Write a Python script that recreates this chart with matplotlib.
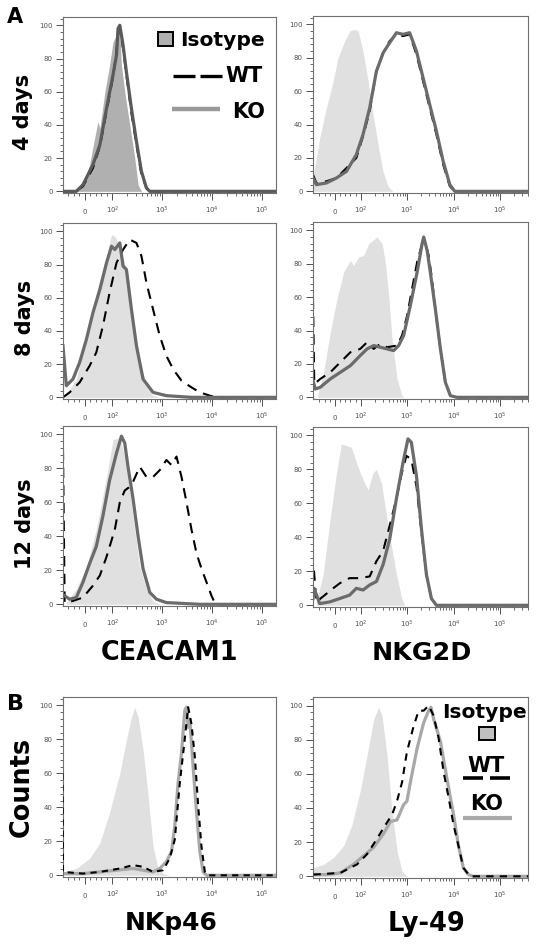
import matplotlib
matplotlib.use("Agg")
import matplotlib.pyplot as plt
from matplotlib.ticker import FixedLocator, FixedFormatter, MultipleLocator
from matplotlib.lines import Line2D
from matplotlib.patches import Rectangle

plt.rcParams['font.family'] = ['DejaVu Sans']

# ---------------- data (fluorescence intensity, % of max) ----------------
# A, 4 days, CEACAM1
cea4_iso_x = [-78, -30, -6, 18, 36, 48, 55, 73, 90, 103, 121, 141, 152, 177, 223, 281, 328, 383]
cea4_iso_y = [0, 0, 4, 16, 32, 42, 38, 60, 76, 90, 94, 96, 76, 60, 40, 20, 4, 0]
cea4_wt_x = [-78, -30, -6, 30, 55, 79, 103, 121, 130, 141, 164, 191, 241, 304, 383, 482, 562, 1.9e5]
cea4_wt_y = [0, 0, 3, 14, 27, 48, 69, 84, 96, 97, 86, 70, 47, 28, 10, 2, 0, 0]
cea4_ko_x = [-78, -30, -6, 30, 55, 79, 103, 121, 130, 141, 164, 191, 241, 304, 383, 482, 562, 1.9e5]
cea4_ko_y = [0, 0, 4, 16, 28, 50, 70, 82, 98, 100, 88, 72, 50, 30, 12, 2, 0, 0]

# A, 4 days, NKG2D
nkg4_iso_x = [-85, -59, -33, -7, 12, 38, 57, 77, 90, 112, 144, 184, 236, 302, 387, 497]
nkg4_iso_y = [8, 32, 50, 66, 80, 90, 96, 97, 96, 84, 66, 46, 28, 12, 3, 0]
nkg4_wt_x = [-85, -72, -33, 6, 45, 83, 112, 156, 218, 305, 420, 588, 813, 1130, 1585, 2200, 3060, 4270, 5960, 8300, 10600, 4e5]
nkg4_wt_y = [10, 5, 6, 8, 14, 20, 33, 48, 72, 83, 90, 94, 93, 94, 82, 66, 50, 34, 16, 3, 0, 0]
nkg4_ko_x = [-85, -72, -33, 6, 45, 83, 112, 156, 218, 305, 420, 588, 813, 1130, 1585, 2200, 3060, 4270, 5960, 8300, 10600, 4e5]
nkg4_ko_y = [8, 4, 5, 8, 12, 22, 34, 50, 72, 83, 89, 95, 94, 95, 84, 68, 52, 36, 18, 4, 0, 0]

# A, 8 days, CEACAM1
cea8_iso_x = [-72, -30, 6.5, 42, 79, 97, 112, 130, 164, 206, 260, 354, 482, 654, 891]
cea8_iso_y = [0, 11, 35, 63, 85, 98, 97, 93, 83, 75, 49, 23, 7, 1, 0]
cea8_wt_x = [-78, -54, -18, 18, 42, 66, 90, 121, 164, 223, 304, 383, 482, 654, 891, 1210, 1650, 2430, 3850, 5660, 9000, 12200, 1.9e5]
cea8_wt_y = [0, 3, 9, 19, 27, 43, 63, 81, 89, 95, 93, 85, 69, 53, 37, 25, 17, 10, 6, 3, 1, 0, 0]
cea8_ko_x = [-78, -66, -42, -18, 6.5, 30, 55, 79, 97, 112, 141, 164, 191, 241, 304, 412, 654, 1210, 3850, 1.9e5]
cea8_ko_y = [31, 7, 11, 21, 35, 51, 65, 81, 91, 89, 93, 79, 77, 53, 31, 11, 3, 1, 0, 0]

# A, 8 days, NKG2D
nkg8_iso_x = [-69, -44, -18, 8, 34, 60, 72, 92, 116, 148, 224, 290, 345, 406, 473, 604, 775, 840]
nkg8_iso_y = [0, 15, 39, 59, 75, 82, 79, 84, 85, 92, 96, 92, 79, 59, 35, 11, 1, 0]
nkg8_wt_x = [-85, -80, -57, -18, 21, 60, 98, 137, 190, 264, 368, 604, 775, 1000, 1275, 1640, 2100, 2470, 2900, 3420, 4040, 5200, 6650, 8510, 11900, 4e5]
nkg8_wt_y = [59, 8, 11, 15, 21, 27, 29, 33, 29, 32, 30, 31, 37, 49, 65, 81, 92, 92, 85, 71, 53, 29, 9, 1, 0, 0]
nkg8_ko_x = [-85, -76, -57, -18, 21, 60, 98, 137, 190, 264, 368, 512, 655, 840, 1170, 1640, 2100, 2270, 2690, 3150, 4040, 5200, 6650, 8510, 11900, 4e5]
nkg8_ko_y = [10, 5, 6, 11, 15, 19, 25, 29, 31, 30, 29, 28, 31, 37, 55, 75, 92, 96, 88, 75, 53, 29, 9, 1, 0, 0]

# A, 12 days, CEACAM1
cea12_iso_x = [-66, -30, 6.5, 42, 79, 103, 141, 177, 223, 281, 354, 482, 654, 891]
cea12_iso_y = [1, 9, 22, 44, 75, 97, 98, 87, 67, 44, 22, 9, 2, 0]
cea12_wt_x = [-78, -72, -42, -6, 30, 55, 79, 112, 141, 177, 241, 354, 482, 654, 891, 1210, 1530, 1930, 2430, 3060, 3850, 4860, 6100, 7700, 9700, 11200, 14100, 1.9e5]
cea12_wt_y = [91, 1, 2, 4, 11, 17, 28, 44, 60, 67, 70, 81, 75, 75, 79, 85, 82, 87, 75, 60, 44, 30, 21, 13, 5, 1, 0, 0]
cea12_ko_x = [-72, -54, -30, -6, 18, 42, 66, 90, 121, 152, 177, 206, 260, 328, 412, 562, 765, 1210, 5660, 1.9e5]
cea12_ko_y = [5, 3, 4, 13, 24, 34, 52, 73, 89, 99, 95, 81, 62, 40, 21, 7, 3, 1, 0, 0]

# A, 12 days, NKG2D
nkg12_iso_x = [-72, -46, -20, 6, 25, 45, 64, 83, 112, 144, 184, 218, 279, 358, 458, 588, 767, 885]
nkg12_iso_y = [2, 18, 49, 78, 95, 94, 93, 84, 74, 68, 78, 80, 72, 53, 35, 18, 4, 0]
nkg12_wt_x = [-85, -81, -72, -7, 19, 57, 96, 156, 218, 303, 421, 588, 767, 960, 1230, 1590, 2030, 2600, 3330, 4270, 4e5]
nkg12_wt_y = [20, 20, 2, 10, 13, 16, 16, 17, 26, 32, 47, 63, 78, 88, 86, 70, 43, 18, 4, 0, 0]
nkg12_ko_x = [-85, -81, -59, -20, 19, 57, 83, 112, 156, 218, 303, 421, 588, 813, 1040, 1230, 1590, 2030, 2600, 3330, 4270, 4e5]
nkg12_ko_y = [4, 10, 1, 2, 4, 6, 10, 9, 12, 14, 24, 39, 63, 84, 98, 96, 76, 45, 18, 4, 0, 0]

# B, NKp46
nkp_iso_x = [-78, -30, 18, 55, 90, 141, 191, 241, 281, 328, 412, 519, 654, 824, 1040, 1410]
nkp_iso_y = [2, 4, 10, 19, 37, 60, 80, 93, 99, 93, 74, 47, 17, 4, 1, 0]
nkp_wt_x = [-80, -78, -6, 55, 141, 260, 412, 654, 1040, 1410, 1780, 2240, 2820, 3300, 3850, 4490, 5240, 6100, 7130, 8300, 1.9e5]
nkp_wt_y = [60, 2, 1, 2, 4, 6, 5, 2, 3, 10, 21, 54, 80, 99, 89, 70, 41, 17, 2, 0, 0]
nkp_ko_x = [-78, -6, 55, 121, 260, 412, 654, 891, 1210, 1530, 1780, 2070, 2430, 2820, 3060, 3300, 3560, 4150, 4860, 5660, 6600, 7700, 1.9e5]
nkp_ko_y = [1, 1, 2, 3, 4, 3, 2, 4, 8, 14, 29, 54, 72, 97, 99, 87, 92, 64, 37, 14, 2, 0, 0]

# B, Ly-49
ly_iso_x = [-83, -44, -5, 34, 66, 98, 137, 190, 243, 287, 368, 472, 604, 775, 990]
ly_iso_y = [5, 7, 11, 18, 30, 50, 71, 92, 99, 94, 71, 38, 15, 3, 0]
ly_wt_x = [-83, 21, 86, 137, 224, 338, 472, 604, 775, 990, 1380, 1770, 2270, 2900, 3720, 4750, 6100, 7810, 9980, 12700, 16200, 22500, 4e5]
ly_wt_y = [1, 2, 7, 13, 22, 30, 36, 44, 55, 73, 88, 97, 97, 100, 94, 81, 61, 46, 30, 18, 5, 0, 0]
ly_ko_x = [-83, -31, 21, 72, 116, 190, 311, 434, 604, 840, 990, 1170, 1640, 2270, 2900, 3260, 3720, 5200, 7200, 9980, 12700, 16200, 20800, 26600, 4e5]
ly_ko_y = [1, 1, 2, 7, 12, 17, 25, 32, 33, 42, 44, 55, 75, 90, 97, 99, 92, 79, 57, 36, 18, 5, 1, 0, 0]

row_labels = ["4 days", "8 days", "12 days", "Counts"]
col_labels_top = ["CEACAM1", "NKG2D"]
col_labels_bottom = ["NKp46", "Ly-49"]
xtick_vals = [0, 100, 1e3, 1e4, 1e5]
xtick_text = ["0", "$10^2$", "$10^3$", "$10^4$", "$10^5$"]
ytick_vals = [0, 20, 40, 60, 80, 100]

# ---------------- figure ----------------
W, H = 538, 944
fig = plt.figure(figsize=(W / 100, H / 100), dpi=100)


def fx(x):
    return x / W


def fy(y):
    return 1 - y / H


def add_ax(x0, top, w, bottom):
    return fig.add_axes([fx(x0), fy(bottom), w / W, (bottom - top) / H])


minor_x = [-60, -40, -20, 20, 40, 60, 80]
for d in [100, 1000, 10000, 100000]:
    minor_x += [k * d for k in range(2, 10)]

ISO_LIGHT = '#e0e0e0'
ISO_DARK = '#b0b0b0'
KO_A = '#6b6b6b'
KO_B = '#a8a8a8'


def style(ax, xmax):
    ax.set_xscale('symlog', linthresh=100, linscale=0.5, base=10)
    ax.set_xlim(-78 if xmax < 3e5 else -85, xmax)
    ax.set_ylim(-1, 105)
    ax.xaxis.set_major_locator(FixedLocator(xtick_vals))
    ax.xaxis.set_major_formatter(FixedFormatter(xtick_text))
    ax.xaxis.set_minor_locator(FixedLocator(minor_x))
    ax.yaxis.set_major_locator(FixedLocator(ytick_vals))
    ax.yaxis.set_minor_locator(MultipleLocator(4))
    ax.tick_params(axis='both', which='major', length=5, width=0.7, color='#505050',
                   labelsize=5, labelcolor='#505050')
    ax.tick_params(axis='x', which='major', pad=10)
    ax.tick_params(axis='y', which='major', pad=2.5)
    ax.tick_params(axis='both', which='minor', length=2.5, width=0.6, color='#505050')
    for lab in ax.get_xticklabels():
        lab.set_verticalalignment('baseline')
    for s in ax.spines.values():
        s.set_color('#707070')
        s.set_linewidth(0.8)


panels = [
    # (x0, top, w, bottom, xmax, iso, wt, ko, iso_color, ko_color, dashes, wt_on_top)
    (63, 17, 213, 193, 1.9e5, (cea4_iso_x, cea4_iso_y), (cea4_wt_x, cea4_wt_y), (cea4_ko_x, cea4_ko_y), ISO_DARK, '#5a5a5a', (5, 3.5), False),
    (313, 16, 215, 193, 4e5, (nkg4_iso_x, nkg4_iso_y), (nkg4_wt_x, nkg4_wt_y), (nkg4_ko_x, nkg4_ko_y), ISO_LIGHT, KO_A, (5, 3.5), False),
    (63, 223, 213, 399, 1.9e5, (cea8_iso_x, cea8_iso_y), (cea8_wt_x, cea8_wt_y), (cea8_ko_x, cea8_ko_y), ISO_LIGHT, KO_A, (5, 3.5), False),
    (313, 222, 215, 399, 4e5, (nkg8_iso_x, nkg8_iso_y), (nkg8_wt_x, nkg8_wt_y), (nkg8_ko_x, nkg8_ko_y), ISO_LIGHT, KO_A, (5, 3.5), False),
    (63, 426, 213, 606, 1.9e5, (cea12_iso_x, cea12_iso_y), (cea12_wt_x, cea12_wt_y), (cea12_ko_x, cea12_ko_y), ISO_LIGHT, KO_A, (5, 3.5), False),
    (313, 427, 215, 607, 4e5, (nkg12_iso_x, nkg12_iso_y), (nkg12_wt_x, nkg12_wt_y), (nkg12_ko_x, nkg12_ko_y), ISO_LIGHT, KO_A, (5, 3.5), False),
    (63, 697, 213, 877, 1.9e5, (nkp_iso_x, nkp_iso_y), (nkp_wt_x, nkp_wt_y), (nkp_ko_x, nkp_ko_y), ISO_LIGHT, KO_B, (3, 2.5), True),
    (313, 697, 215, 878, 4e5, (ly_iso_x, ly_iso_y), (ly_wt_x, ly_wt_y), (ly_ko_x, ly_ko_y), ISO_LIGHT, KO_B, (3.5, 3), True),
]

for (x0, top, w, bottom, xmax, iso, wt, ko, iso_c, ko_c, dsh, wt_top) in panels:
    ax = add_ax(x0, top, w, bottom)
    style(ax, xmax)
    ax.fill_between(iso[0], iso[1], 0, color=iso_c, lw=0, zorder=1)
    ax.plot(ko[0], ko[1], color=ko_c, lw=2.3, zorder=3 if not wt_top else 2,
            solid_joinstyle='round')
    ax.plot(wt[0], wt[1], color='black', lw=1.5, dashes=dsh,
            zorder=2 if not wt_top else 3)

# ---------------- texts ----------------
fig.text(fx(7), fy(23), "A", fontsize=15, fontweight='bold', ha='left', va='baseline')
fig.text(fx(7), fy(710), "B", fontsize=16, fontweight='bold', ha='left', va='baseline')

row_pos = [(23, 112, 15), (25, 318, 15), (25, 524, 15), (22, 787, 18.4)]
for lab, (x, y, fs) in zip(row_labels, row_pos):
    fig.text(fx(x), fy(y), lab, fontsize=fs, fontweight='bold', rotation=90,
             ha='center', va='center')

fig.text(fx(169), fy(660), col_labels_top[0], fontsize=18.4, fontweight='bold', ha='center', va='baseline')
fig.text(fx(422), fy(660), col_labels_top[1], fontsize=18.2, fontweight='bold', ha='center', va='baseline')
fig.text(fx(171), fy(930), col_labels_bottom[0], fontsize=18, fontweight='bold', ha='center', va='baseline')
fig.text(fx(426), fy(931), col_labels_bottom[1], fontsize=18.5, fontweight='bold', ha='center', va='baseline')

# ---------------- legend, panel A ----------------
fig.patches.append(Rectangle((fx(158), fy(46)), 15 / W, 14 / H, transform=fig.transFigure,
                             facecolor=ISO_DARK, edgecolor='black', lw=1.4))
fig.text(fx(180), fy(46), "Isotype", fontsize=14.6, fontweight='bold', ha='left', va='baseline')
for a, b in [(173, 195), (200, 222)]:
    fig.lines.append(Line2D([fx(a), fx(b)], [fy(76), fy(76)], transform=fig.transFigure,
                            color='black', lw=2.4, solid_capstyle='butt'))
fig.text(fx(263), fy(82), "WT", fontsize=15, fontweight='bold', ha='right', va='baseline')
fig.lines.append(Line2D([fx(172), fx(220)], [fy(109), fy(109)], transform=fig.transFigure,
                        color='#999999', lw=3.2, solid_capstyle='butt'))
fig.text(fx(265), fy(118), "KO", fontsize=15, fontweight='bold', ha='right', va='baseline')

# ---------------- legend, panel B ----------------
fig.text(fx(442), fy(718), "Isotype", fontsize=14.6, fontweight='bold', ha='left', va='baseline')
fig.patches.append(Rectangle((fx(479), fy(740)), 16 / W, 13 / H, transform=fig.transFigure,
                             facecolor='#c0c0c0', edgecolor='black', lw=1.4))
fig.text(fx(486), fy(772), "WT", fontsize=15, fontweight='bold', ha='center', va='baseline')
for a, b in [(463, 483), (490, 510)]:
    fig.lines.append(Line2D([fx(a), fx(b)], [fy(778), fy(778)], transform=fig.transFigure,
                            color='black', lw=2.6, solid_capstyle='butt'))
fig.text(fx(486.5), fy(810), "KO", fontsize=15, fontweight='bold', ha='center', va='baseline')
fig.lines.append(Line2D([fx(463), fx(512)], [fy(818), fy(818)], transform=fig.transFigure,
                        color=KO_B, lw=3, solid_capstyle='butt'))

fig.savefig("out.png", dpi=100)
